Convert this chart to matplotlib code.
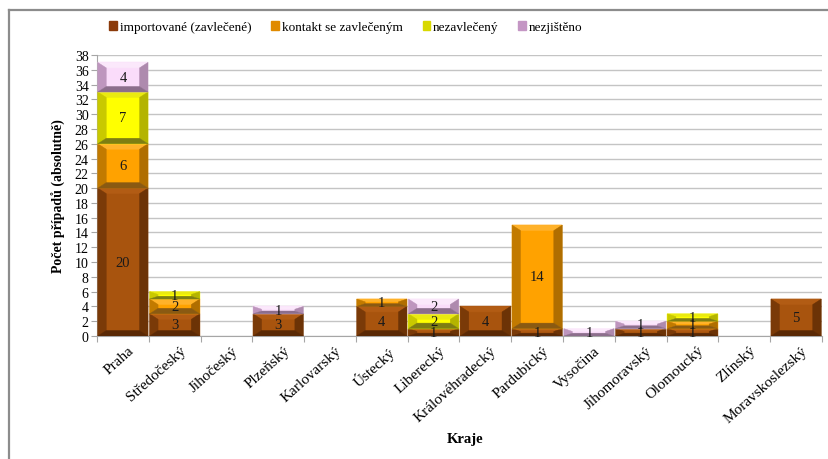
import matplotlib
matplotlib.use("Agg")
import matplotlib.pyplot as plt
from matplotlib.patches import Polygon, Rectangle
from matplotlib.lines import Line2D

plt.rcParams['font.family'] = ['Liberation Serif', 'DejaVu Serif']

regions = ["Praha", "Středočeský", "Jihočeský", "Plzeňský", "Karlovarský", "Ústecký",
           "Liberecký", "Královéhradecký", "Pardubický", "Vysočina", "Jihomoravský",
           "Olomoucký", "Zlínský", "Moravskoslezský"]
series_names = ["importované (zavlečené)", "kontakt se zavlečeným", "nezavlečený", "nezjištěno"]
importovane = [20, 3, 0, 3, 0, 4, 1, 4, 1, 0, 1, 1, 0, 5]
kontakt = [6, 2, 0, 0, 0, 1, 0, 0, 14, 0, 0, 1, 0, 0]
nezavleceny = [7, 1, 0, 0, 0, 0, 2, 0, 0, 0, 0, 1, 0, 0]
nezjisteno = [4, 0, 0, 1, 0, 0, 2, 0, 0, 1, 1, 0, 0, 0]
y_ticks = list(range(0, 39, 2))

# face, top, left, right, bottom shades for the bevelled segments
shades = [
    ("#A8540E", "#B25C14", "#7A3A08", "#6C3306", "#5A2905"),
    ("#FFA200", "#FFB22A", "#C27A00", "#B06E00", "#8A5A12"),
    ("#FFFF00", "#EAEA10", "#C9C900", "#B4B400", "#7E7E12"),
    ("#FADCFA", "#FBE8FB", "#BE96BE", "#AE8AAE", "#8C6E8C"),
]
legend_colors = ["#8B3A0A", "#E08A00", "#D8D800", "#C496C4"]

W, H = 829, 460
fig = plt.figure(figsize=(W / 100, H / 100), dpi=100)
ax = fig.add_axes([97 / W, 1 - 337 / H, (822 - 97) / W, (337 - 56) / H])
ax.set_xlim(-0.5, len(regions) - 0.5)
ax.set_ylim(0, 38)

px_x = (822 - 97) / len(regions)
px_y = (337 - 56) / 38.0
bar_w = 0.97
bev_x = 8.5 / px_x
bev_y = 5.5 / px_y


def bevel_bar(x0, y0, w, h, cols):
    face, top, left, right, bottom = cols
    x1, y1 = x0 + w, y0 + h
    by = min(bev_y, h * 0.38)
    bx = min(bev_x, w * 0.3)
    ix0, ix1, iy0, iy1 = x0 + bx, x1 - bx, y0 + by, y1 - by
    polys = [
        ([(x0, y0), (x1, y0), (x1, y1), (x0, y1)], face),
        ([(x0, y1), (x1, y1), (ix1, iy1), (ix0, iy1)], top),
        ([(x0, y0), (ix0, iy0), (ix0, iy1), (x0, y1)], left),
        ([(x1, y0), (x1, y1), (ix1, iy1), (ix1, iy0)], right),
        ([(x0, y0), (x1, y0), (ix1, iy0), (ix0, iy0)], bottom),
    ]
    for pts, c in polys:
        ax.add_patch(Polygon(pts, closed=True, facecolor=c, edgecolor=c, lw=0.3, zorder=3))


all_series = [importovane, kontakt, nezavleceny, nezjisteno]
for i in range(len(regions)):
    base = 0
    for s, vals in enumerate(all_series):
        v = vals[i]
        if v <= 0:
            continue
        bevel_bar(i - bar_w / 2, base, bar_w, v, shades[s])
        ax.text(i, base + v / 2, str(v), ha="center", va="center", fontsize=10.5,
                color="#1a1a1a", zorder=5)
        base += v

# axes styling
ax.set_yticks(y_ticks)
ax.set_yticklabels([str(t) for t in y_ticks], fontsize=10)
ax.yaxis.grid(True, color="#c4c4c4", lw=1.0, zorder=0)
ax.set_axisbelow(True)
for side in ("top", "right"):
    ax.spines[side].set_visible(False)
ax.spines["left"].set_color("#a6a6a6")
ax.spines["bottom"].set_color("#a6a6a6")
ax.tick_params(axis="y", length=4, color="#a6a6a6", pad=2)

ax.set_xticks([i - 0.5 for i in range(len(regions) + 1)])
ax.set_xticklabels([])
ax.tick_params(axis="x", length=4, color="#a6a6a6")
for i, name in enumerate(regions):
    ax.text(i + 0.1, -1.0, name, rotation=42, rotation_mode="anchor",
            ha="right", va="top", fontsize=11, transform=ax.transData)

ax.set_ylabel("Počet případů (absolutně)", fontsize=10, fontweight="bold", labelpad=6)
fig.text(465 / W, 1 - 440 / H, "Kraje", ha="center", va="center", fontsize=10.5,
         fontweight="bold")

# legend
handles = [Rectangle((0, 0), 1, 1, facecolor=c, edgecolor=c) for c in legend_colors]
fig.legend(handles, series_names, loc="center", ncol=4, frameon=False,
           bbox_to_anchor=(346 / W, 1 - 28 / H), fontsize=9.5,
           handlelength=0.6, handleheight=0.6, handletextpad=0.2, columnspacing=1.5)

# outer frame (top and left edge)
fig.add_artist(Line2D([9 / W, 1.0], [1 - 11 / H, 1 - 11 / H], color="#8c8c8c", lw=1.6))
fig.add_artist(Line2D([9 / W, 9 / W], [0.0, 1 - 11 / H], color="#8c8c8c", lw=1.6))

fig.savefig("out.png", dpi=100)
